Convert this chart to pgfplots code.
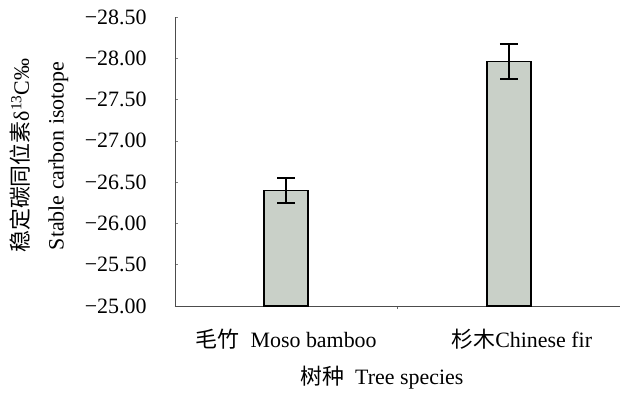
\documentclass[border=0pt]{standalone}
\usepackage{pgfplots}
\pgfplotsset{compat=1.18}
\usepackage{fontspec}
\setmainfont{Liberation Serif}
\newfontfamily\cjk{Noto Sans CJK SC}
\definecolor{barfill}{HTML}{C9D0C8}
\begin{document}
\begin{tikzpicture}
\begin{axis}[
  scale only axis,
  width=445bp, height=289bp,
  xmin=-0.5, xmax=1.5,
  ymin=-28.5, ymax=-25,
  y dir=reverse,
  axis x line*=bottom, axis y line*=left,
  axis line style={draw=black!70, line width=0.8bp, -},
  xtick={0.5}, xticklabels={},
  x tick style={draw=black!60, line width=0.6bp},
  major tick length=3bp,
  tick align=inside,
  extra x ticks={0,1},
  extra x tick labels={{\cjk 毛竹}\ \ Moso bamboo, \hspace*{26bp}{\cjk 杉木}Chinese fir},
  extra x tick style={major tick length=0pt, tick label style={yshift=-20bp}},
  ytick={-28.5,-28,-27.5,-27,-26.5,-26,-25.5,-25},
  yticklabels={−28.50,−28.00,−27.50,−27.00,−26.50,−26.00,−25.50,−25.00},
  y tick style={draw=black!50, line width=0.6bp},
  yticklabel style={xshift=-25bp},
  tick label style={font=\fontsize{22}{26}\selectfont},
  xlabel={{\cjk 树种}\ \ Tree species},
  xlabel style={font=\fontsize{22}{26}\selectfont, at={(axis description cs:0.465,0)}, anchor=center, yshift=-72bp},
  ylabel={{\cjk 稳定碳同位素}δ\textsuperscript{13}C‰\\Stable carbon isotope},
  ylabel style={font=\fontsize{22}{35}\selectfont, align=center, at={(axis description cs:-0.305,0.52)}, anchor=center},
  ybar, bar width=44bp,
  clip=true,
]
\addplot[fill=barfill, draw=black, line width=1.6bp,
  error bars/.cd, y dir=both, y explicit,
  error bar style={line width=2bp, black},
  error mark options={rotate=90, mark size=9bp, line width=2bp, black}]
  coordinates {(0,-26.40) +- (0,0.155) (1,-27.96) +- (0,0.21)};
\end{axis}
\path (current axis.south west) ++(-175bp,-85bp) rectangle ++(640bp,391bp);
\end{tikzpicture}
\end{document}
